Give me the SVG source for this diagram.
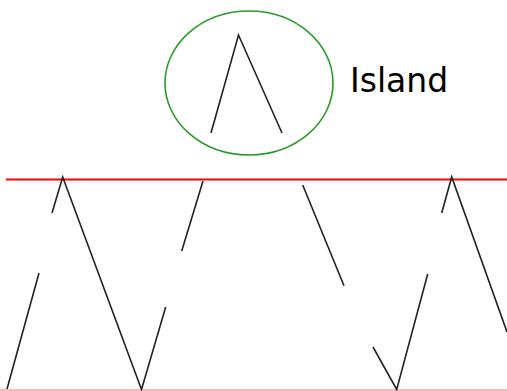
<svg xmlns="http://www.w3.org/2000/svg" width="507" height="391" viewBox="0 0 507 391">
<style>
.ln{fill:none;stroke:#222;stroke-width:1.6;stroke-linejoin:miter}
.lbl{font-family:"DejaVu Sans",sans-serif;font-size:33px;fill:#000}
</style>
<rect width="507" height="391" fill="#fff"/>
<g id="island">
<ellipse cx="249" cy="83" rx="84" ry="72" fill="none" stroke="#2a9a2a" stroke-width="1.6"/>
<polyline class="ln" points="211,133 238.5,35 282,133"/>
<text class="lbl" x="350" y="92">Island</text>
</g>
<g id="surface">
<line x1="6" y1="179.5" x2="507" y2="179.5" stroke="#f00" stroke-width="2"/>
<line x1="0" y1="390" x2="507" y2="390" stroke="#ffa0a0" stroke-width="1.5"/>
</g>
<g id="connectors">
<polyline class="ln" points="7,389 39,273"/>
<polyline class="ln" points="52,213 62.7,177 141.5,389.5 165.7,307"/>
<polyline class="ln" points="181.7,251 203,181"/>
<polyline class="ln" points="302.7,185 344,285.7"/>
<polyline class="ln" points="373,347 396.7,389.5 427.7,274"/>
<polyline class="ln" points="441.7,213 451.7,177 507,332"/>
</g>
</svg>
